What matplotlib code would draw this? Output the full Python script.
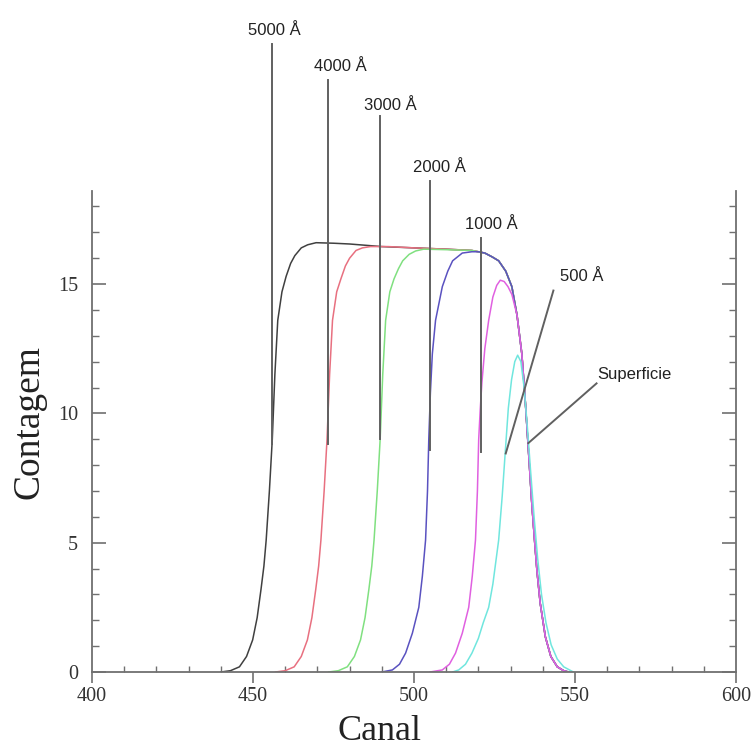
import matplotlib.pyplot as plt
from matplotlib.ticker import MultipleLocator

# falling edge shared by the thick films
fall_x = [520, 522, 524.3, 526.3, 528.5, 530.4, 532, 533.5, 534.5, 535.4, 536.6, 537.5, 538.2, 539.2,
          540.8, 542.5, 544.5, 546.5, 548]
fall_y = [16.25, 16.2, 16.05, 15.9, 15.5, 14.9, 13.8, 12.3, 10.6, 8.85, 6.5, 5.0, 3.9, 2.66,
          1.36, 0.6, 0.2, 0.05, 0]

# rising edge + plateau of each spectrum
black_x = [440, 443, 445.8, 448, 449.9, 451.3, 452.5, 453.4, 454.1, 455.1, 456, 456.8, 457.7, 459,
           460.3, 461.7, 463, 465, 467, 469.6, 475, 480, 490, 500, 510, 518]
black_y = [0, 0.05, 0.2, 0.6, 1.24, 2.1, 3.2, 4.1, 5.1, 7.0, 9.0, 11.5, 13.6, 14.7,
           15.3, 15.8, 16.1, 16.4, 16.52, 16.6, 16.58, 16.55, 16.45, 16.4, 16.35, 16.3]

red_x = [457, 460, 462.8, 465, 466.9, 468.3, 469.5, 470.4, 471.1, 472.1, 473, 473.8, 474.7, 476,
         477.3, 478.7, 480, 482, 484, 486.5, 492, 500, 510, 518]
red_y = [0, 0.05, 0.2, 0.6, 1.24, 2.1, 3.2, 4.1, 5.1, 7.0, 9.0, 11.5, 13.6, 14.7,
         15.2, 15.7, 16.0, 16.3, 16.4, 16.45, 16.45, 16.4, 16.35, 16.3]

green_x = [473.5, 476.5, 479.3, 481.5, 483.4, 484.8, 486, 486.9, 487.6, 488.6, 489.5, 490.3, 491.2,
           492.5, 493.8, 495.2, 496.5, 498.5, 500.5, 503, 510, 518]
green_y = [0, 0.05, 0.2, 0.6, 1.24, 2.1, 3.2, 4.1, 5.1, 7.0, 9.0, 11.5, 13.6,
           14.7, 15.2, 15.6, 15.9, 16.15, 16.28, 16.35, 16.33, 16.3]

blue_x = [490, 493.3, 495.5, 497.4, 499.5, 501.5, 502.6, 503.6, 504.2, 504.6, 505.1, 505.7, 506.7,
          508.8, 510.5, 512, 515, 518]
blue_y = [0, 0.08, 0.3, 0.73, 1.5, 2.5, 3.7, 5.1, 7.0, 9.0, 10.8, 12.3, 13.6,
          14.9, 15.5, 15.9, 16.2, 16.25]

magenta_x = [505, 508.8, 511, 512.9, 515, 517, 518.1, 519.1, 519.7, 520.1, 520.6, 521.1, 522, 523.2,
             524.5, 525.7, 526.8, 528, 529.2, 530.4]
magenta_y = [0, 0.08, 0.3, 0.73, 1.5, 2.5, 3.7, 5.1, 7.0, 9.0, 10.2, 11.2, 12.5, 13.6,
             14.5, 14.95, 15.15, 15.1, 14.9, 14.6]

# surface peak, full curve
cyan_x = [512, 513.9, 516, 518, 520, 521.5, 523.2, 524.5, 526.3, 527.4, 528.4, 529.3, 530.3, 531.3,
          532.2, 533.2, 534.2, 535.2, 536.2, 537.3, 538.4, 539.6, 541, 542.6, 544.5, 546.5, 549.5]
cyan_y = [0, 0.08, 0.3, 0.73, 1.3, 1.9, 2.5, 3.4, 5.1, 6.8, 8.6, 10.2, 11.3, 12.0,
          12.25, 12.0, 11.0, 9.5, 7.8, 6.0, 4.4, 3.0, 1.9, 1.05, 0.5, 0.2, 0]

labels = ['5000 Å', '4000 Å', '3000 Å', '2000 Å', '1000 Å', '500 Å', 'Superficie']


def with_fall(xs, ys):
    # glue a rising part onto the common falling edge
    last = xs[-1]
    fx = [x for x in fall_x if x > last]
    fy = [y for x, y in zip(fall_x, fall_y) if x > last]
    return list(xs) + fx, list(ys) + fy


mag_fx = [x for x in fall_x if x >= 532]
mag_fy = [y for x, y in zip(fall_x, fall_y) if x >= 532]

curves = [
    (with_fall(black_x, black_y), '#404040'),
    (with_fall(red_x, red_y), '#e87080'),
    (with_fall(green_x, green_y), '#80e080'),
    (with_fall(blue_x, blue_y), '#5a52c0'),
    ((magenta_x + mag_fx, magenta_y + mag_fy), '#e060e0'),
    ((cyan_x, cyan_y), '#70e6de'),
]

fig = plt.figure(figsize=(7.52, 7.51), dpi=100)
ax = fig.add_axes([0.1223, 0.1052, 0.8564, 0.6405])

for (xs, ys), color in curves:
    ax.plot(xs, ys, color=color, lw=1.1)

# label lines: (x_top, y_top, x_end, y_end) and text positions
line_pts = [(456.0, 24.3, 456.0, 8.8), (473.4, 22.9, 473.4, 8.8), (489.5, 21.5, 489.5, 9.0),
            (505.0, 19.0, 505.0, 8.6), (520.7, 16.8, 520.7, 8.5), (543.3, 14.75, 528.5, 8.45),
            (556.7, 11.16, 535.5, 8.85)]
text_pts = [(456.7, 24.8), (477.1, 23.4), (492.6, 21.9), (508.0, 19.5), (524.1, 17.3),
            (552.0, 15.3), (568.3, 11.5)]

for (x0, y0, x1, y1), (tx, ty), lab in zip(line_pts, text_pts, labels):
    ax.plot([x0, x1], [y0, y1], color='#606060', lw=1.4, clip_on=False, zorder=5)
    ax.text(tx, ty, lab, ha='center', va='center', fontsize=12, color='#222222',
            family='Liberation Sans', clip_on=False)

ax.set_xlim(400, 600)
ax.set_ylim(0, 18.6)
ax.xaxis.set_major_locator(MultipleLocator(50))
ax.xaxis.set_minor_locator(MultipleLocator(10))
ax.yaxis.set_major_locator(MultipleLocator(5))
ax.yaxis.set_minor_locator(MultipleLocator(1))

ax.spines['top'].set_visible(False)
for s in ['left', 'right', 'bottom']:
    ax.spines[s].set_color('#707070')
    ax.spines[s].set_linewidth(1.3)

ax.tick_params(axis='x', which='major', direction='out', length=8, width=1.2, color='#707070',
               labelsize=14.5, labelcolor='#333333', pad=3)
ax.tick_params(axis='x', which='minor', direction='in', length=4, width=1.0, color='#707070')
ax.tick_params(axis='y', which='major', direction='in', length=10, width=1.2, color='#707070',
               labelsize=14.5, labelcolor='#333333', right=True, pad=10)
ax.tick_params(axis='y', which='minor', direction='in', length=5, width=1.0, color='#707070', right=True)
for lab in ax.get_xticklabels() + ax.get_yticklabels():
    lab.set_family('Liberation Serif')

ax.set_xlabel('Canal', fontsize=26, family='Liberation Serif', color='#222222')
ax.set_ylabel('Contagem', fontsize=27, family='Liberation Serif', color='#222222')
ax.xaxis.set_label_coords(0.446, -0.09)
ax.yaxis.set_label_coords(-0.07, 0.52)

fig.savefig('out.png', dpi=100)
